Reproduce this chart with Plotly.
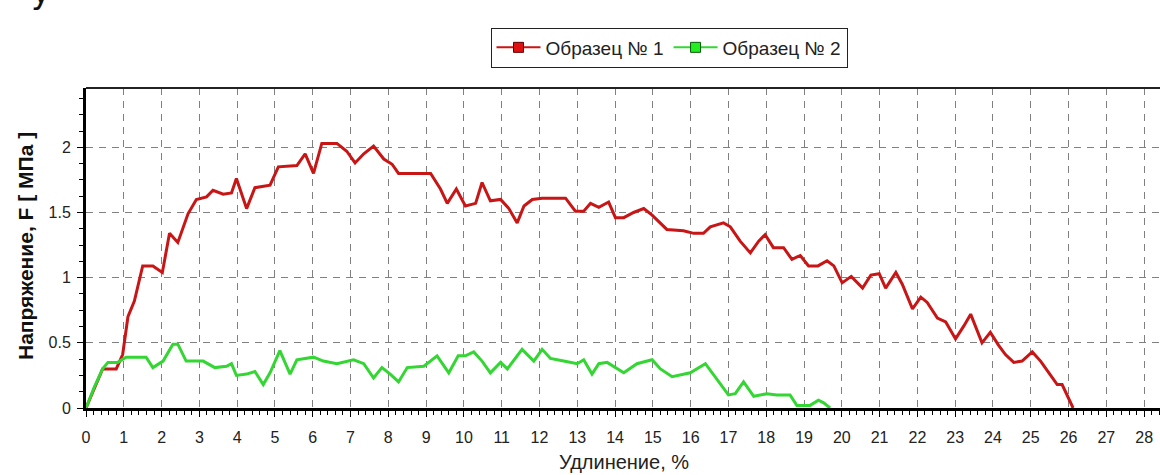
import plotly.graph_objects as go

# Образец № 1 (red)
x1 = [0, 0.44, 0.80, 0.97, 1.11, 1.28, 1.50, 1.77, 2.02, 2.21, 2.43, 2.70, 2.92, 3.19, 3.36, 3.63,
      3.85, 3.98, 4.25, 4.47, 4.87, 5.09, 5.58, 5.80, 6.02, 6.24, 6.64, 6.90, 7.12, 7.35, 7.61,
      7.88, 8.10, 8.27, 9.12, 9.38, 9.56, 9.80, 10.04, 10.31, 10.48, 10.70, 10.97, 11.19, 11.41,
      11.59, 11.81, 12.07, 12.69, 12.95, 13.17, 13.35, 13.57, 13.83, 14.01, 14.23, 14.49, 14.76,
      14.98, 15.37, 15.81, 16.08, 16.34, 16.52, 16.87, 17.05, 17.31, 17.58, 17.80, 17.97, 18.19,
      18.46, 18.68, 18.90, 19.12, 19.37, 19.61, 19.79, 20.01, 20.25, 20.55, 20.77, 20.99, 21.16,
      21.43, 21.60, 21.87, 22.09, 22.26, 22.53, 22.75, 23.01, 23.23, 23.41, 23.71, 23.93, 24.15,
      24.33, 24.55, 24.77, 25.04, 25.26, 25.48, 25.70, 25.83, 26.09, 26.12]
y1 = [0, 0.30, 0.30, 0.41, 0.70, 0.82, 1.09, 1.09, 1.04, 1.34, 1.27, 1.49, 1.60, 1.62, 1.67, 1.64,
      1.65, 1.76, 1.53, 1.69, 1.71, 1.85, 1.86, 1.95, 1.80, 2.03, 2.03, 1.97, 1.88, 1.95, 2.01,
      1.91, 1.87, 1.80, 1.80, 1.68, 1.57, 1.68, 1.55, 1.57, 1.73, 1.59, 1.60, 1.53, 1.42,
      1.55, 1.60, 1.61, 1.61, 1.51, 1.51, 1.57, 1.54, 1.58, 1.46, 1.46, 1.50, 1.53,
      1.48, 1.37, 1.36, 1.34, 1.34, 1.39, 1.42, 1.39, 1.28, 1.19, 1.28, 1.33, 1.23,
      1.23, 1.14, 1.17, 1.09, 1.09, 1.13, 1.09, 0.96, 1.01, 0.92, 1.02, 1.03, 0.92,
      1.04, 0.95, 0.76, 0.85, 0.81, 0.69, 0.66, 0.53, 0.63, 0.72, 0.50, 0.58, 0.48,
      0.41, 0.35, 0.36, 0.43, 0.36, 0.27, 0.18, 0.18, 0.02, 0.0]

# Образец № 2 (green)
x2 = [0, 0.22, 0.44, 0.58, 0.84, 1.06, 1.59, 1.77, 2.04, 2.30, 2.43, 2.65, 3.10, 3.41, 3.72, 3.85,
      3.98, 4.25, 4.47, 4.69, 4.87, 5.13, 5.40, 5.58, 6.02, 6.28, 6.64, 7.08, 7.35, 7.61, 7.83,
      8.05, 8.27, 8.50, 8.94, 9.29, 9.60, 9.85, 10.04, 10.26, 10.48, 10.70, 10.97, 11.15, 11.54,
      11.85, 12.07, 12.29, 12.64, 13.00, 13.17, 13.39, 13.57, 13.79, 14.23, 14.58, 14.98, 15.20,
      15.51, 15.99, 16.39, 16.70, 17.00, 17.18, 17.40, 17.67, 18.02, 18.28, 18.63, 18.81, 19.16,
      19.38, 19.52, 19.69]
y2 = [0, 0.16, 0.30, 0.35, 0.35, 0.39, 0.39, 0.31, 0.36, 0.49, 0.49, 0.36, 0.36, 0.31, 0.32, 0.34,
      0.25, 0.26, 0.28, 0.18, 0.27, 0.44, 0.26, 0.37, 0.39, 0.36, 0.34, 0.37, 0.34, 0.23, 0.31,
      0.26, 0.20, 0.31, 0.32, 0.40, 0.27, 0.40, 0.40, 0.43, 0.36, 0.27, 0.35, 0.30, 0.45,
      0.36, 0.45, 0.38, 0.36, 0.34, 0.37, 0.26, 0.34, 0.35, 0.27, 0.34, 0.37, 0.30,
      0.24, 0.27, 0.34, 0.22, 0.10, 0.11, 0.20, 0.09, 0.11, 0.10, 0.10, 0.02, 0.02,
      0.06, 0.04, 0.0]

names = ["Образец № 1", "Образец № 2"]
line_colors = ["#c81515", "#33d633"]
marker_colors = ["#e01010", "#22ee22"]
marker_edges = ["#5a0000", "#0a5a0a"]

FONT = "Liberation Sans, Arial, sans-serif"

fig = go.Figure()
for xs, ys, c in [(x1, y1, line_colors[0]), (x2, y2, line_colors[1])]:
    fig.add_trace(go.Scatter(x=xs, y=ys, mode="lines", showlegend=False,
                             line=dict(color=c, width=3), hoverinfo="x+y"))
# legend entries (line + square marker)
for n, c, mc, me in zip(names, line_colors, marker_colors, marker_edges):
    fig.add_trace(go.Scatter(x=[None], y=[None], mode="lines+markers", name=n,
                             line=dict(color=c, width=2),
                             marker=dict(symbol="square", size=10, color=mc,
                                         line=dict(color=me, width=1))))

grid = dict(showgrid=True, gridcolor="#808080", gridwidth=1.2, griddash="7px,6px")

fig.update_xaxes(range=[0, 28.42], dtick=1, tick0=0, zeroline=False,
                 showline=True, linecolor="black", linewidth=3,
                 ticks="outside", ticklen=6, tickcolor="black", tickwidth=1,
                 ticklabelstandoff=7,
                 tickfont=dict(family=FONT, size=16, color="#222"),
                 minor=dict(dtick=0.2, ticks="outside", ticklen=4, tickcolor="black", showgrid=False),
                 **grid)
fig.update_yaxes(range=[0, 2.455], dtick=0.5, tick0=0, zeroline=False,
                 showline=True, linecolor="black", linewidth=3,
                 ticks="outside", ticklen=6, tickcolor="black", tickwidth=1,
                 ticklabelstandoff=3,
                 tickfont=dict(family=FONT, size=16, color="#222"),
                 minor=dict(dtick=0.125, ticks="outside", ticklen=4, tickcolor="black", showgrid=False),
                 **grid)

# top frame line
fig.add_shape(type="line", xref="paper", yref="paper", x0=0, x1=1, y0=1, y1=1,
              line=dict(color="#222", width=2))

fig.add_annotation(text="Напряжение, F [ МПа ]", xref="paper", yref="paper",
                   x=(25 - 86) / 1074, y=(408 - 246) / 320, textangle=-90, showarrow=False,
                   xanchor="center", yanchor="middle",
                   font=dict(family=FONT, size=21, color="#111", weight="bold"))
fig.add_annotation(text="Удлинение, %", xref="paper", yref="paper",
                   x=(624 - 86) / 1074, y=-(462 - 408) / 320, showarrow=False,
                   xanchor="center", yanchor="middle",
                   font=dict(family=FONT, size=20, color="#222"))
# partial glyph cut at top-left (text line above the chart)
fig.add_annotation(text="у", xref="paper", yref="paper",
                   x=(41 - 86) / 1074, y=1 + (88 - 12) / 320, xanchor="center", yanchor="bottom",
                   showarrow=False, borderpad=0,
                   font=dict(family="DejaVu Sans, sans-serif", size=34, color="#111"))

fig.update_layout(
    width=1160, height=475,
    margin=dict(l=86, r=0, t=88, b=67),
    plot_bgcolor="white", paper_bgcolor="white",
    font=dict(family=FONT, size=16, color="#222"),
    legend=dict(orientation="h", x=(669 - 86) / 1074, xanchor="center",
                y=1 + (88 - 47.5) / 320, yanchor="middle",
                bordercolor="#222", borderwidth=1, bgcolor="white",
                font=dict(family=FONT, size=19, color="#222"),
                itemwidth=44, tracegroupgap=0),
)

fig.write_html("out.html", config={"displayModeBar": False},
               post_script="document.body.style.margin='0px';")
